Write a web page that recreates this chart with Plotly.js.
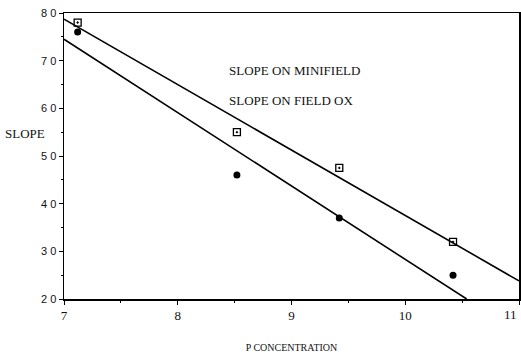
<!DOCTYPE html>
<html>
<head>
<meta charset="utf-8">
<script src="https://cdn.plot.ly/plotly-3.0.1.min.js"></script>
<style>html,body{margin:0;padding:0;background:#fff;}#chart{width:521px;height:357px;}</style>
</head>
<body>
<div id="chart"></div>
<script>
// Measured points
const pConc = [7.12, 8.52, 9.42, 10.42];
const slopeMinifield = [78, 55, 47.5, 32];
const slopeFieldOx = [76, 46, 37, 25];
// Fitted line endpoints
const fitMiniX = [7, 11];
const fitMiniY = [78.7, 23.8];
const fitOxX = [7, 10.54];
const fitOxY = [74.5, 20];
const xTicks = [7, 8, 9, 10, 11];
const xTickText = ['7', '8', '9', '10', ''];
const lastXTickText = '11';
const yTicks = [20, 30, 40, 50, 60, 70, 80];
const yTickText = ['2 0', '3 0', '4 0', '5 0', '6 0', '7 0', '8 0'];

const traces = [
  {x: fitMiniX, y: fitMiniY, mode: 'lines', line: {color: '#000', width: 1.6}, showlegend: false},
  {x: fitOxX, y: fitOxY, mode: 'lines', line: {color: '#000', width: 1.6}, showlegend: false},
  {x: pConc, y: slopeMinifield, mode: 'markers', marker: {symbol: 'square-open-dot', size: 7, color: '#000', line: {width: 1.3, color: '#000'}}, showlegend: false},
  {x: pConc, y: slopeFieldOx, mode: 'markers', marker: {symbol: 'circle', size: 7, color: '#000'}, showlegend: false}
];

const layout = {
  width: 521, height: 357,
  margin: {l: 64, r: 2, t: 13, b: 58},
  paper_bgcolor: '#fff', plot_bgcolor: '#fff',
  showlegend: false,
  xaxis: {
    range: [7, 11], tickvals: xTicks, ticktext: xTickText,
    showgrid: false, zeroline: false, showline: true, mirror: true,
    linecolor: '#000', linewidth: 1.5, ticks: 'outside', ticklen: 4, tickcolor: '#000',
    minor: {dtick: 0.5, ticks: 'outside', ticklen: 2, tickcolor: '#000'},
    tickfont: {family: 'Liberation Serif', size: 13, color: '#111'},
    title: {text: 'P CONCENTRATION', font: {family: 'Liberation Serif', size: 10, color: '#111'}, standoff: 22}
  },
  yaxis: {
    range: [20, 80], tickvals: yTicks, ticktext: yTickText,
    showgrid: false, zeroline: false, showline: true, mirror: true,
    linecolor: '#000', linewidth: 1.5, ticks: 'outside', ticklen: 4, tickcolor: '#000',
    minor: {dtick: 5, ticks: 'outside', ticklen: 2, tickcolor: '#000'},
    tickfont: {family: 'Liberation Sans', size: 11, color: '#111'}
  },
  annotations: [
    {text: lastXTickText, xref: 'x', yref: 'paper', x: xTicks[4], y: 0, yshift: -6, xanchor: 'right', yanchor: 'top', showarrow: false, font: {family: 'Liberation Serif', size: 13, color: '#111'}},
    {text: 'SLOPE', xref: 'paper', yref: 'paper', x: -0.135, y: 0.58, xanchor: 'left', yanchor: 'middle', showarrow: false, font: {family: 'Liberation Serif', size: 13, color: '#111'}},
    {text: 'SLOPE ON MINIFIELD', xref: 'paper', yref: 'paper', x: 0.358, y: 0.8, xanchor: 'left', yanchor: 'middle', showarrow: false, font: {family: 'Liberation Serif', size: 13, color: '#111'}},
    {text: 'SLOPE ON FIELD OX', xref: 'paper', yref: 'paper', x: 0.358, y: 0.695, xanchor: 'left', yanchor: 'middle', showarrow: false, font: {family: 'Liberation Serif', size: 13, color: '#111'}}
  ]
};

Plotly.newPlot('chart', traces, layout, {displayModeBar: false, staticPlot: true});
</script>
</body>
</html>
